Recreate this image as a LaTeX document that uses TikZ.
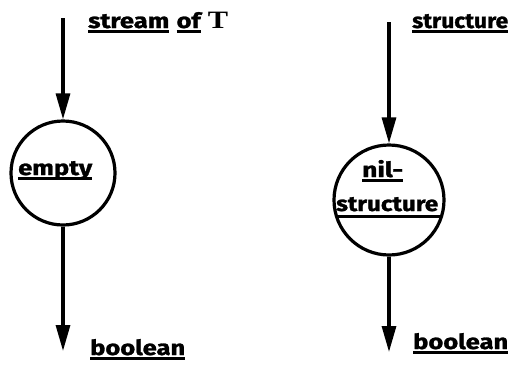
\documentclass[tikz,border=0pt]{standalone}
\usepackage{fontspec}
\usepackage{graphicx}
\setmainfont{Fira Sans}[BoldFeatures={FakeBold=1.2}]
\newfontfamily\serifT{Liberation Serif}
\usetikzlibrary{arrows.meta}
\newcommand\ulw[1]{\setbox0\hbox{#1}\rlap{\rule[-5pt]{\wd0}{2.6pt}}\box0}
\newcommand\fitw[2]{\resizebox{#1}{\height}{#2}}
\tikzset{
  x=1pt, y=-1pt,
  wire/.style={line width=3.2pt, -{Triangle[length=26pt,width=14pt]}},
  proc/.style={circle, draw, line width=3.2pt, inner sep=0pt},
  lbl/.style={font=\fontsize{21}{24}\selectfont\bfseries, inner sep=0pt, anchor=base west},
}
\begin{document}
\begin{tikzpicture}
\useasboundingbox (0,0) rectangle (516,367);
% left
\node[proc, minimum size=104pt] (c1) at (63,173) {};
\coordinate (t1) at (63,18);
\coordinate (b1) at (63,351);
\draw[wire] (t1) -- (c1.north);
\draw[wire] (c1.south) -- (b1);
\node[lbl] (l1) at (88,28) {\fitw{140pt}{\ulw{stream}\hspace*{6pt}\ulw{of}\hspace*{6pt}{\serifT\fontsize{25}{28}\selectfont T}}};
\node[lbl] (l2) at (90,355) {\fitw{95pt}{\ulw{boolean}}};
\node[lbl] (e1) at (18,175) {\fitw{74pt}{\ulw{empty}}};
% right
\node[proc, minimum size=110pt] (c2) at (389,200) {};
\coordinate (t2) at (389,22);
\coordinate (b2) at (389,352);
\draw[wire] (t2) -- (c2.north);
\draw[wire] (c2.south) -- (b2);
\node[lbl] (l3) at (412,28) {\fitw{96pt}{\ulw{structure}}};
\node[lbl] (l4) at (413,349) {\fitw{95pt}{\ulw{boolean}}};
\node[lbl] (n1) at (362,177) {\fitw{41pt}{\ulw{nil-}}};
\node[lbl] (n2) at (336,211) {\fitw{102pt}{structure}};
\draw[line width=2.6pt] ([shift={(-52.5,16.5)}]c2.center) -- ([shift={(52.5,16.5)}]c2.center);
\end{tikzpicture}
\end{document}
